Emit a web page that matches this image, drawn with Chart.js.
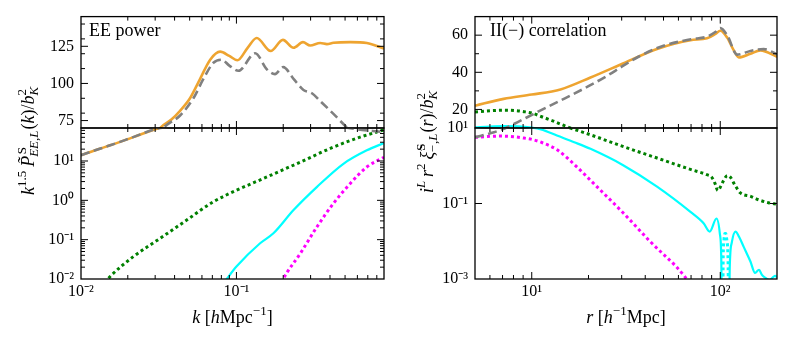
<!DOCTYPE html>
<html><head><meta charset="utf-8">
<script src="https://cdn.jsdelivr.net/npm/chart.js@4.4.1/dist/chart.umd.min.js"></script>
<style>
html,body{margin:0;padding:0;background:#fff;}
#wrap{position:relative;width:789px;height:337px;overflow:hidden;}
canvas{position:absolute;left:0;top:0;}
</style></head><body>
<div id="wrap">
<canvas id="cLT" width="789" height="337"></canvas>
<canvas id="cLB" width="789" height="337"></canvas>
<canvas id="cRT" width="789" height="337"></canvas>
<canvas id="cRB" width="789" height="337"></canvas>
</div>
<script>
// ---------------- DATA: left column, EE power (x = k) ----------------
const kTot  = [0.01,0.0132,0.0154,0.0217,0.0307,0.0323,0.038,0.0434,0.0504,0.0584,0.0678,0.0785,0.09,0.1014,0.118,0.135,0.166,0.199,0.233,0.268,0.298,0.346,0.382,0.421,0.54,0.69,0.89];
const eeTot = [14,20.5,25,40.5,66,70,75.5,81.6,90.2,103.1,116,121.4,118.5,115.6,124,130.6,121.8,129.3,124,127.8,125.5,127.2,126.5,127.4,127.8,127.2,123.5];
const kLin  = [0.01,0.0132,0.0154,0.0217,0.0307,0.0356,0.0434,0.053,0.0613,0.0711,0.0804,0.09,0.103,0.132,0.157,0.177,0.2,0.233,0.27,0.306,0.346,0.421,0.515,0.6,0.75,0.89];
const eeLin = [14,20.5,25,40.5,66,72,78.4,90.2,103,113.9,116,112,108.5,120.3,109.5,106.3,111,103.1,95.6,93.4,88.1,79.5,70.2,64,58,54];
const kG    = [0.0142,0.0154,0.0217,0.0323,0.0479,0.0711,0.1004,0.157,0.258,0.421,0.625,0.89];
const eeG   = [0.008,0.0116,0.037,0.108,0.315,0.92,1.81,3.93,9.4,22.6,40.5,62];
const kC    = [0.083,0.0866,0.1,0.142,0.173,0.233,0.33,0.49,0.69,0.89];
const eeC   = [0.008,0.01,0.0207,0.081,0.145,0.565,2.2,8.6,18.7,28.6];
const kM    = [0.195,0.2,0.258,0.33,0.421,0.54,0.69,0.89];
const eeM   = [0.008,0.01,0.045,0.213,0.835,2.68,7.05,12.5];

// ---------------- DATA: right column, II(-) correlation (x = r) ----------------
const rTot  = [5,7.1,10,14.2,20.5,30.7,46.2,69.5,85.1,94.3,100.2,108.8,118,125.4,144.6,163.4,200];
const iiTot = [22,25.7,28,30.8,37.2,44.9,52.6,57.3,58.3,60.7,62.4,58.7,51.8,48,50,51.8,48.4];
const rLin  = [5,6.3,7,8.1,10.2,15,20,25,30,37,50,70,85,95,100,108.8,123,144.6,170,200];
const iiLin = [5.7,7.7,9.3,12.3,17.5,26,32.5,38,43,48.5,54.3,57.8,59.2,62,63.8,60,49.5,51.5,52.5,49.7];
const rG    = [5,6,7.2,8.2,9.1,10.2,11.2,12.8,14.3,16,20.5,30.7,46.2,69.5,85,90,94,97,100,104,109,113,120,128,145,160,180,200];
const iiG   = [18.6,19.3,19.6,19.4,18.8,17.8,16.2,14,12,10,6.6,3.2,1.6,0.8,0.58,0.5,0.33,0.22,0.27,0.4,0.55,0.5,0.3,0.19,0.155,0.125,0.105,0.095];
const rC    = [5,6,7.2,8.5,10,11.2,13.6,16.8,20.5,30.7,46.2,69.5,81.6,87.9,95.5,99.5,101.2,102.5,111,112.3,115,120.4,126,133,144.6,153,160.6,166,172,183,190,196,200];
const iiC   = [10.4,10.8,11,10.9,10.2,9.2,6.3,4.2,2.8,1.02,0.28,0.06,0.03,0.018,0.04,0.016,0.0039,0.00001,0.00001,0.002,0.009,0.018,0.013,0.0072,0.0029,0.00145,0.00176,0.0013,0.0011,0.00095,0.0011,0.00122,0.0011];
const rCn   = [103,103.6,104.5,105.8,107,108.5,110,111];
const iiCn  = [0.00001,0.003,0.01,0.016,0.016,0.01,0.003,0.00001];
const rM    = [5,6,6.9,8,9.1,10,11.2,13.7,17.4,20.5,30.7,42.5,64.5,67];
const iiM   = [5.66,6.0,6.1,5.9,5.4,5.0,4.2,2.6,0.92,0.41,0.055,0.0098,0.0012,0.0009];

// ---------------- TICKS ----------------
const kMajor = [0.01,0.1];
const kMinor = [0.02,0.03,0.04,0.05,0.06,0.07,0.08,0.09,0.2,0.3,0.4,0.5,0.6,0.7,0.8];
const kLabels = ['10\u207B\u00B2','10\u207B\u00B9'];
const rMajor = [10,100];
const rMinor = [6,7,8,9,20,30,40,50,60,70,80,90];
const rLabels = ['10\u00B9','10\u00B2'];
const eeTopMajor = [75,100,125];
const eeTopMinor = [80,90,110,120,130,140];
const iiTopMajor = [20,40,60];
const iiTopMinor = [30,50];
const eeLogMajor = [0.01,0.1,1,10];
const eeLogLabels = ['10\u207B\u00B2','10\u207B\u00B9','10\u2070','10\u00B9'];
const eeLogMinor = [0.02,0.03,0.04,0.05,0.06,0.07,0.08,0.09,0.2,0.3,0.4,0.5,0.6,0.7,0.8,0.9,2,3,4,5,6,7,8,9,20,30,40,50,60];
const iiLogMajor = [0.001,0.1,10];
const iiLogLabels = ['10\u207B\u00B3','10\u207B\u00B9','10\u00B9'];
const iiLogMinor = [];

// ---------------- STYLE / LAYOUT ----------------
const FAM = 'Liberation Serif';
const W = 789, H = 337;
const PANEL = { L:[81,384], R:[475,777], top:[12,128], bot:[128,279] };
const YW = 50;

const ST = {
  tot:{borderColor:'rgb(238,164,48)',borderWidth:2.6,borderDash:[]},
  lin:{borderColor:'#808080',borderWidth:2.6,borderDash:[9,4.5]},
  g:{borderColor:'#008000',borderWidth:3,borderDash:[3,3]},
  c:{borderColor:'#00FFFF',borderWidth:2.2,borderDash:[]},
  cn:{borderColor:'#00FFFF',borderWidth:3,borderDash:[3,3]},
  m:{borderColor:'#FF00FF',borderWidth:3,borderDash:[3,3]}
};

function pts(xs, ys){ return xs.map((x,i)=>({x:x, y:ys[i]})); }
function ds(xs, ys, st){
  return Object.assign({data:pts(xs,ys), pointRadius:0, fill:false, clip:0,
    cubicInterpolationMode:'monotone', borderCapStyle:'butt', borderJoinStyle:'round'}, st);
}

function drawRich(ctx, parts, x, y, o){
  const size = o.size||15, ss = 0.72;
  const font = (it, s) => (it?'italic ':'') + s + 'px "' + FAM + '"';
  let total = 0; const items = [];
  for (const p of parts){
    let w=0, ws=0, wb=0;
    if (p.t){ ctx.font = font(p.it,size); w = ctx.measureText(p.t).width; }
    if (p.sup){ ctx.font = font(p.supIt,size*ss); ws = ctx.measureText(p.sup).width + (p.supDx||0); }
    if (p.sub){ ctx.font = font(p.subIt,size*ss); wb = ctx.measureText(p.sub).width + (p.subDx||0); }
    items.push({p,w,ws,wb});
    total += w + Math.max(ws,wb) + (p.sp||0);
  }
  ctx.save();
  ctx.translate(x,y); if (o.rot) ctx.rotate(o.rot);
  ctx.fillStyle = '#000'; ctx.textAlign='left'; ctx.textBaseline='alphabetic';
  let cx = o.align==='center' ? -total/2 : 0;
  for (const it of items){
    const p = it.p;
    if (p.t){ ctx.font = font(p.it,size); ctx.fillText(p.t,cx,0); cx += it.w; }
    if (p.sup){ ctx.font = font(p.supIt,size*ss); ctx.fillText(p.sup,cx+(p.supDx||0),-size*0.42); }
    if (p.sub){ ctx.font = font(p.subIt,size*ss); ctx.fillText(p.sub,cx+(p.subDx||0),size*0.24); }
    cx += Math.max(it.ws,it.wb) + (p.sp||0);
  }
  ctx.restore();
}

const framePlugin = {
  id:'frameTicks',
  afterDatasetsDraw(chart, args, o){
    const {ctx, chartArea:a} = chart;
    const xs = chart.scales.x, ys = chart.scales.y;
    ctx.save();
    ctx.strokeStyle = '#000'; ctx.lineWidth = 1;
    const MJ = 7, MN = 4;
    const xt = (vals,len)=>vals.forEach(v=>{
      const p = xs.getPixelForValue(v);
      if (p < a.left+1 || p > a.right-1) return;
      ctx.beginPath(); ctx.moveTo(p,a.top); ctx.lineTo(p,a.top+len);
      ctx.moveTo(p,a.bottom); ctx.lineTo(p,a.bottom-len); ctx.stroke();
    });
    const yt = (vals,len)=>vals.forEach(v=>{
      const p = ys.getPixelForValue(v);
      if (p < a.top+1 || p > a.bottom-1) return;
      ctx.beginPath(); ctx.moveTo(a.left,p); ctx.lineTo(a.left+len,p);
      ctx.moveTo(a.right,p); ctx.lineTo(a.right-len,p); ctx.stroke();
    });
    xt(o.xMajor,MJ); xt(o.xMinor,MN); yt(o.yMajor,MJ); yt(o.yMinor,MN);
    ctx.lineWidth = 1.3;
    ctx.strokeRect(a.left, a.top, a.right-a.left, a.bottom-a.top);
    ctx.restore();
    (o.texts||[]).forEach(t=>drawRich(ctx,t.parts,t.x,t.y,t));
  }
};

function makeChart(id, c){
  const isTop = c.row==='top';
  const [pl,pr] = PANEL[c.col];
  const [pt,pb] = isTop ? PANEL.top : PANEL.bot;
  const xTicksLab = c.xLabels;
  return new Chart(document.getElementById(id), {
    type:'line',
    data:{datasets:c.datasets},
    options:{
      responsive:false, animation:false, events:[],
      layout:{autoPadding:false, padding:{left:pl-YW, right:W-pr, top:pt, bottom:isTop ? H-pb : 0}},
      plugins:{legend:{display:false}, tooltip:{enabled:false}, frameTicks:c.frame},
      scales:{
        x:{type:'logarithmic', min:c.xMin, max:c.xMax, display:!isTop,
           grid:{display:false, drawTicks:false}, border:{display:false},
           afterBuildTicks:s=>{ s.ticks = c.xMajor.map(v=>({value:v, major:true})); },
           afterFit:s=>{ if(!isTop) s.height = H-pb; },
           ticks:{autoSkip:false, maxRotation:0, padding:3, color:'#000',
             font:{family:FAM, size:16},
             callback:(v)=>{ const i = c.xMajor.indexOf(v); return i>=0 ? xTicksLab[i] : ''; }}},
        y:{type:c.yType, min:c.yMin, max:c.yMax,
           grid:{display:false, drawTicks:false}, border:{display:false},
           afterBuildTicks:s=>{ s.ticks = c.yMajor.map(v=>({value:v, major:true})); },
           afterFit:s=>{ s.width = YW; },
           ticks:{autoSkip:false, padding:7, color:'#000', font:{family:FAM, size:16},
             callback:(v)=>{ const i = c.yMajor.indexOf(v); return i>=0 ? c.yLabels[i] : ''; }}}
      }
    },
    plugins:[framePlugin]
  });
}

function leftSets(){ return [ds(kLin,eeLin,ST.lin), ds(kTot,eeTot,ST.tot), ds(kG,eeG,ST.g), ds(kC,eeC,ST.c), ds(kM,eeM,ST.m)]; }
function rightSets(){ return [ds(rLin,iiLin,ST.lin), ds(rTot,iiTot,ST.tot), ds(rG,iiG,ST.g), ds(rC,iiC,ST.c), ds(rCn,iiCn,ST.cn), ds(rM,iiM,ST.m)]; }

const yLabelL = [
  {t:'k', it:true, sup:'1.5', sp:4},
  {t:'P\u0303', it:true, sup:'S', sub:'EE,L', subIt:true, supDx:1.5, subDx:-1, sp:1},
  {t:'(', it:false}, {t:'k', it:true}, {t:')/', it:false},
  {t:'b', it:true, sup:'2', sub:'K', subIt:true}
];
const yLabelR = [
  {t:'i', it:true, sup:'L', supIt:true, sp:4},
  {t:'r', it:true, sup:'2', sp:4},
  {t:'\u03BE\u0303', it:true, sup:'S', sub:'\u2212,L', subIt:true, supDx:1, subDx:-1, sp:1},
  {t:'(', it:false}, {t:'r', it:true}, {t:')/', it:false},
  {t:'b', it:true, sup:'2', sub:'K', subIt:true}
];
const xLabelL = [{t:'k', it:true}, {t:' ['}, {t:'h', it:true}, {t:'Mpc', sup:'\u22121'}, {t:']'}];
const xLabelR = [{t:'r', it:true}, {t:' ['}, {t:'h', it:true, sup:'\u22121'}, {t:'Mpc]'}];

makeChart('cLT', {row:'top', col:'L', datasets:leftSets(),
  xMin:0.01, xMax:0.89, xMajor:kMajor, xLabels:kLabels,
  yType:'linear', yMin:70, yMax:145, yMajor:eeTopMajor, yLabels:eeTopMajor.map(String),
  frame:{xMajor:kMajor, xMinor:kMinor, yMajor:eeTopMajor, yMinor:eeTopMinor,
    texts:[{parts:[{t:'EE power'}], x:89, y:36, size:18}]}});
makeChart('cLB', {row:'bot', col:'L', datasets:leftSets(),
  xMin:0.01, xMax:0.89, xMajor:kMajor, xLabels:kLabels,
  yType:'logarithmic', yMin:0.01, yMax:69, yMajor:eeLogMajor, yLabels:eeLogLabels,
  frame:{xMajor:kMajor, xMinor:kMinor, yMajor:eeLogMajor, yMinor:eeLogMinor,
    texts:[{parts:yLabelL, x:34, y:141, rot:-Math.PI/2, align:'center', size:18},
           {parts:xLabelL, x:232.5, y:323, align:'center', size:18}]}});
makeChart('cRT', {row:'top', col:'R', datasets:rightSets(),
  xMin:5, xMax:200, xMajor:rMajor, xLabels:rLabels,
  yType:'linear', yMin:10, yMax:70, yMajor:iiTopMajor, yLabels:iiTopMajor.map(String),
  frame:{xMajor:rMajor, xMinor:rMinor, yMajor:iiTopMajor, yMinor:iiTopMinor,
    texts:[{parts:[{t:'II(\u2212) correlation'}], x:490, y:36, size:18}]}});
makeChart('cRB', {row:'bot', col:'R', datasets:rightSets(),
  xMin:5, xMax:200, xMajor:rMajor, xLabels:rLabels,
  yType:'logarithmic', yMin:0.001, yMax:10, yMajor:iiLogMajor, yLabels:iiLogLabels,
  frame:{xMajor:rMajor, xMinor:rMinor, yMajor:iiLogMajor, yMinor:iiLogMinor,
    texts:[{parts:yLabelR, x:433, y:142, rot:-Math.PI/2, align:'center', size:18},
           {parts:xLabelR, x:626, y:323, align:'center', size:18}]}});
</script>
</body></html>
